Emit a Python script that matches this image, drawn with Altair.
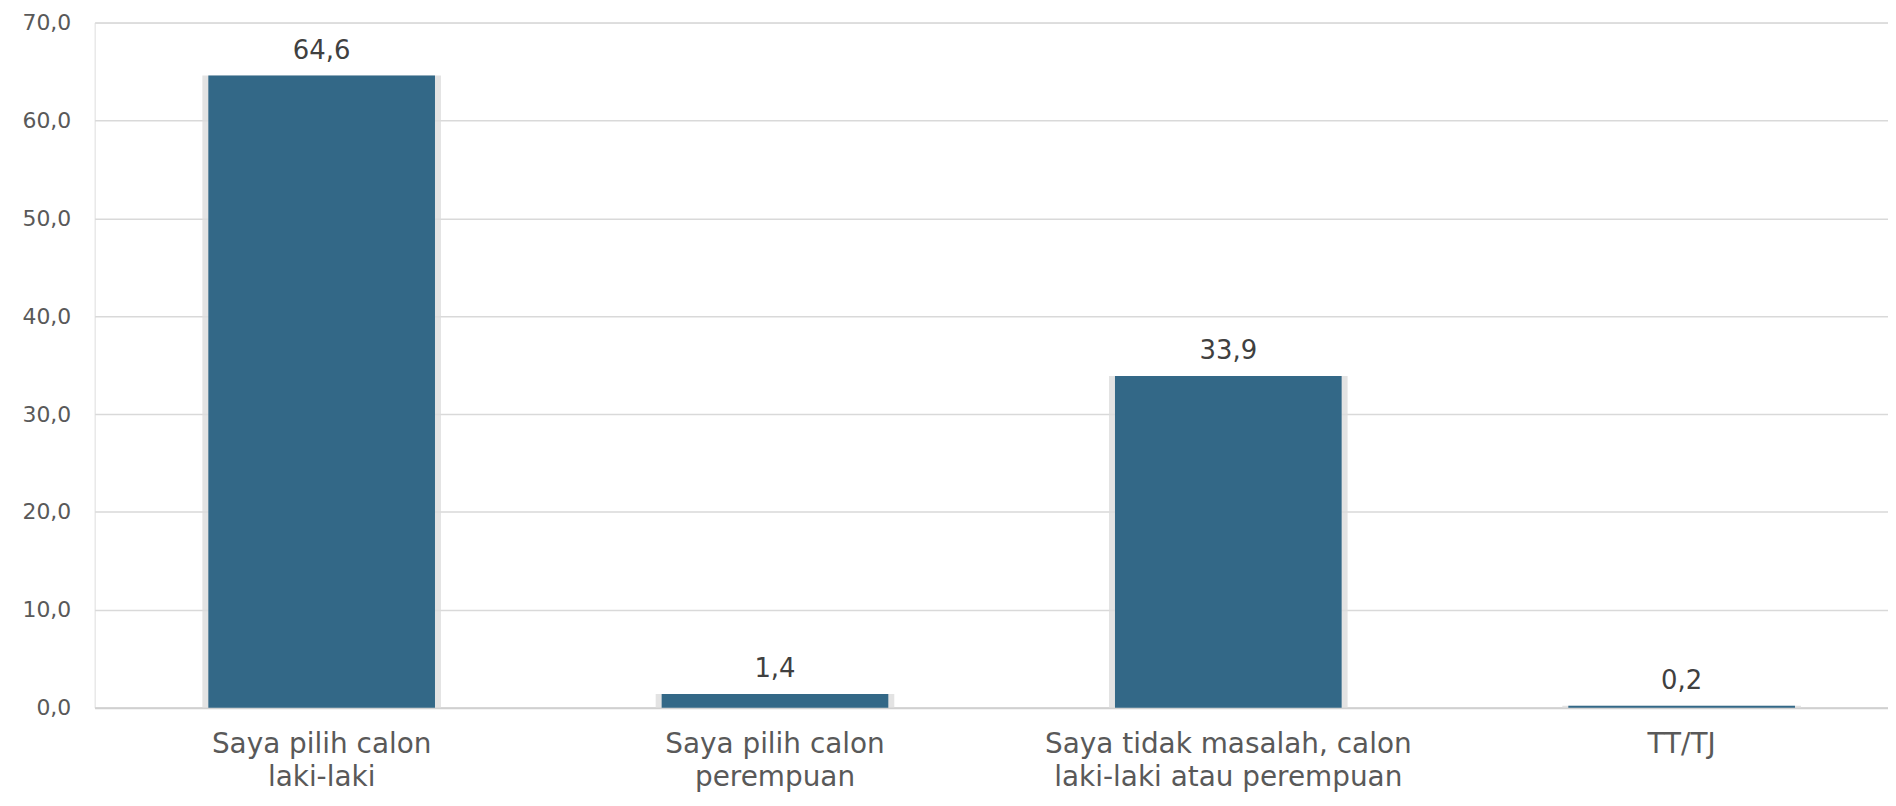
import altair as alt
import pandas as pd

categories = [
    "Saya pilih calon\nlaki-laki",
    "Saya pilih calon\nperempuan",
    "Saya tidak masalah, calon\nlaki-laki atau perempuan",
    "TT/TJ",
]
values = [64.6, 1.4, 33.9, 0.2]
labels = [f"{v:.1f}".replace(".", ",") for v in values]

df = pd.DataFrame({"cat": categories, "val": values, "lab": labels})

W = 1801
H = 688
PI = 0.5
PO = 0.228
ALIGN = 0.55
step = W / (len(categories) - PI + 2 * PO)
bw = step * (1 - PI)

FONT = "DejaVu Sans"
x = alt.X(
    "cat:N",
    sort=None,
    title=None,
    scale=alt.Scale(paddingInner=PI, paddingOuter=PO, align=ALIGN),
    axis=alt.Axis(
        labelAngle=0,
        labelExpr="split(datum.label, '\\n')",
        labelFontSize=28,
        labelFont=FONT,
        labelFontWeight=400,
        labelColor="#595959",
        labelLineHeight=33,
        labelPadding=23,
        ticks=False,
        domain=True,
        domainColor="#d0d0d0",
        domainWidth=2,
        grid=False,
        labelLimit=700,
    ),
)
y = alt.Y(
    "val:Q",
    title=None,
    scale=alt.Scale(domain=[0, 70], nice=False),
    axis=alt.Axis(
        values=[0, 10, 20, 30, 40, 50, 60, 70],
        labelExpr="replace(format(datum.value, '.1f'), '.', ',')",
        labelFontSize=22,
        labelFont=FONT,
        labelFontWeight=400,
        labelColor="#595959",
        labelPadding=24,
        ticks=False,
        domain=False,
        gridColor="#d9d9d9",
        gridWidth=1.5,
    ),
)

base = alt.Chart(df)
shadow = base.mark_bar(color="#dcdcdc", size=bw + 12, opacity=0.8).encode(x=x, y=y)
bars = base.mark_bar(color="#336887", size=bw).encode(x=x, y=y)
text = base.mark_text(
    dy=-17, baseline="alphabetic", fontSize=26, font=FONT, fontWeight=400, color="#404040"
).encode(x=x, y=y, text="lab:N")

chart = (
    alt.layer(shadow, bars, text)
    .properties(
        width=W,
        height=H,
        autosize=alt.AutoSizeParams(type="none"),
        padding={"left": 87, "top": 13, "right": 0, "bottom": 86},
    )
    .configure_view(stroke=None)
    .configure(background="white")
)

chart.save("out.html", embed_options={"renderer": "svg", "actions": False})
